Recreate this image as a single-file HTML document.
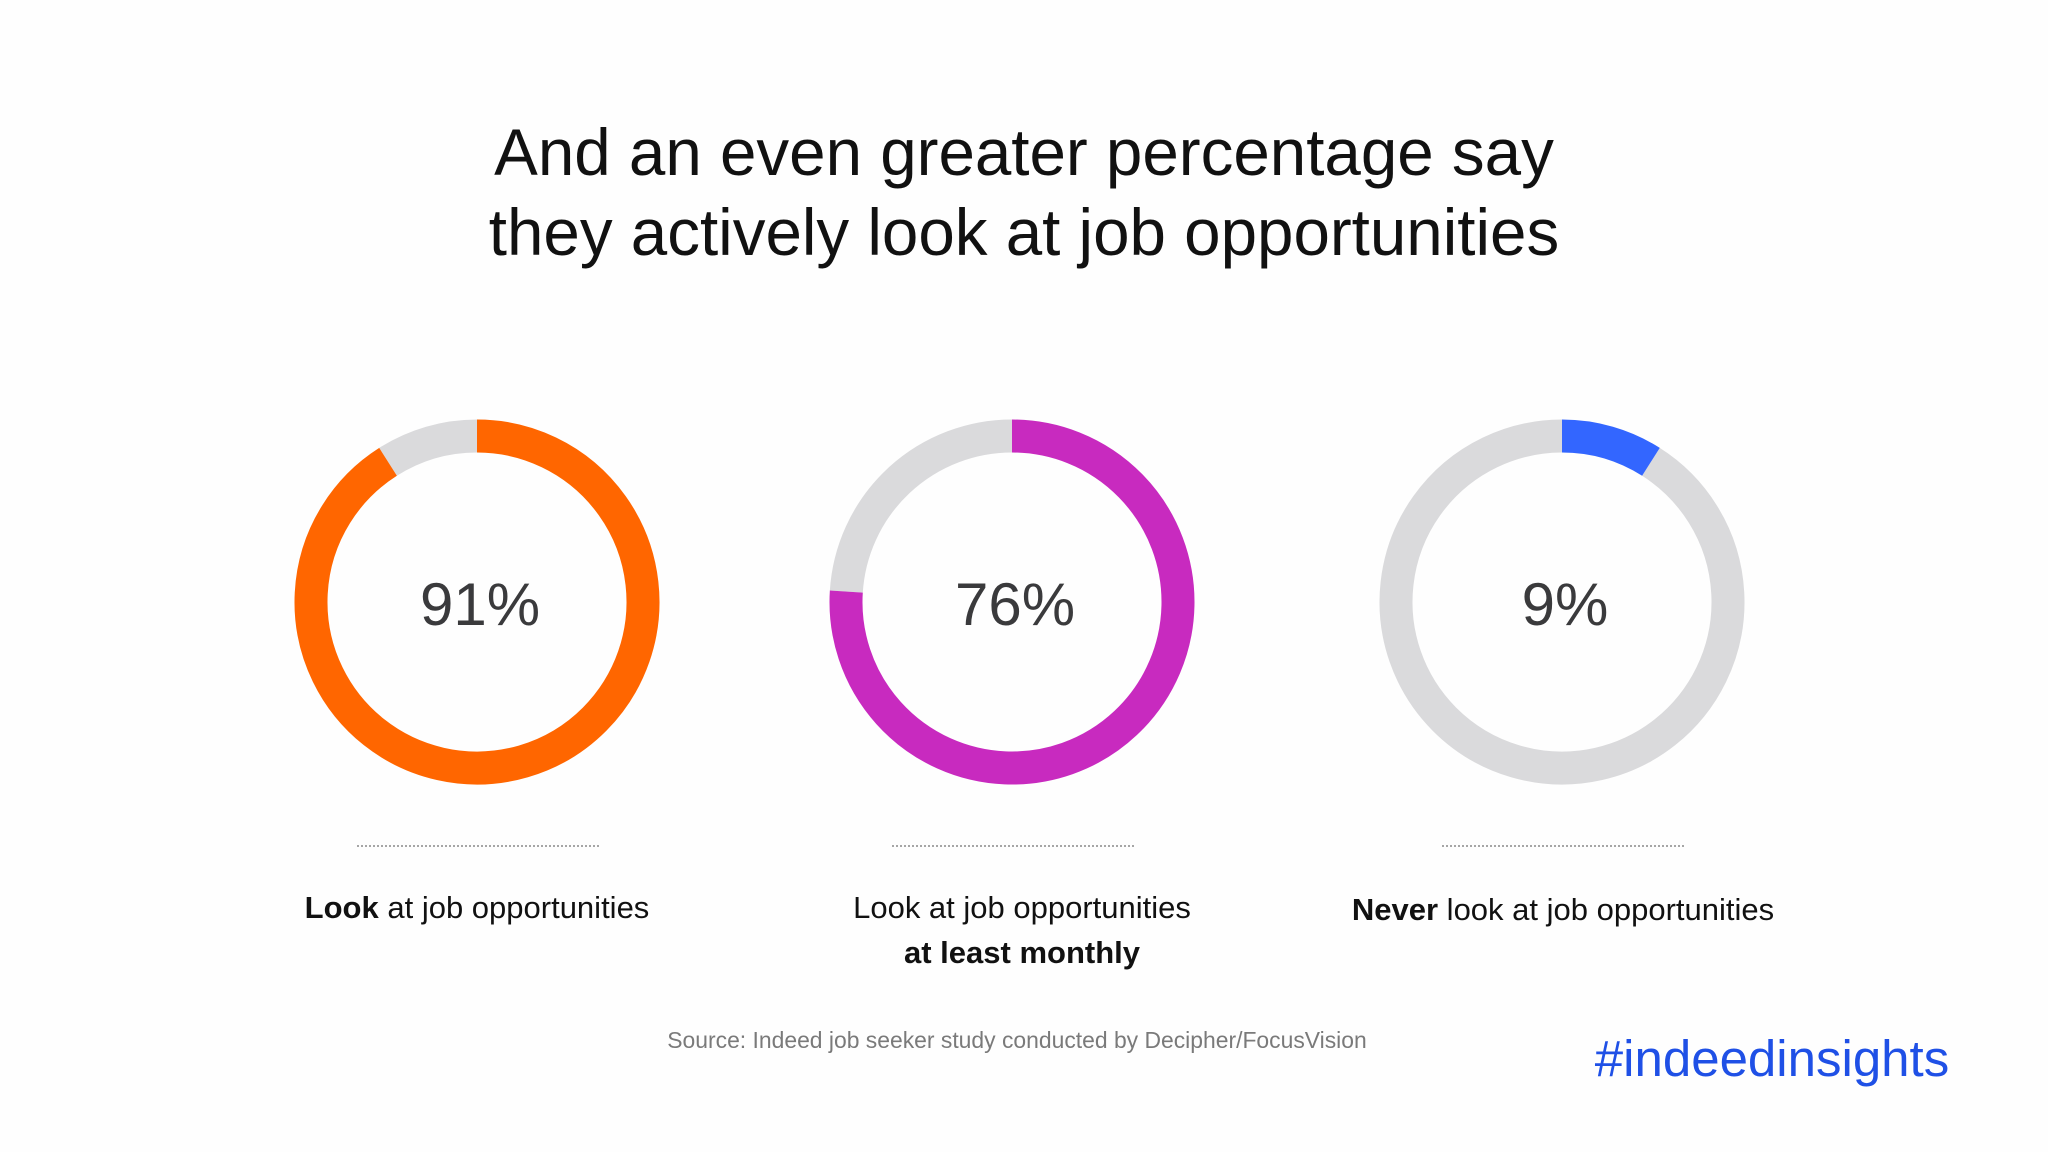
<!DOCTYPE html>
<html><head><meta charset="utf-8"><style>
html,body{margin:0;padding:0;background:#fefefe;}
svg{display:block;font-family:"Liberation Sans",Arial,sans-serif;}
</style></head><body>
<svg id="chart" width="2048" height="1152" viewBox="0 0 2048 1152">
<rect width="2048" height="1152" fill="#fefefe"/>
<g font-size="65.5" fill="#111" text-anchor="middle">
<text x="1024" y="175">And an even greater percentage say</text>
<text x="1024" y="255">they actively look at job opportunities</text>
</g>
<g id="donuts"></g>
<text x="1017" y="1048" font-size="22.9" fill="#7a7a7a" text-anchor="middle">Source: Indeed job seeker study conducted by Decipher/FocusVision</text>
<text x="1772" y="1076" font-size="51" fill="#1f50e6" text-anchor="middle">#indeedinsights</text>
</svg>
<script>
const categories = ["Look at job opportunities", "Look at job opportunities at least monthly", "Never look at job opportunities"];
const values = [91, 76, 9];
const valueLabels = ["91%", "76%", "9%"];
const colors = ["#ff6600", "#c82abf", "#3366ff"];
const ns = "http://www.w3.org/2000/svg";
const g = document.getElementById("donuts");
const centersX = [477, 1012, 1562], cy = 602, R = 166, W = 33;
function pt(cx, a){ return [cx + R*Math.sin(a), cy - R*Math.cos(a)]; }
function arc(cx, f0, f1){
  const a0 = f0*2*Math.PI, a1 = f1*2*Math.PI;
  const p0 = pt(cx,a0), p1 = pt(cx,a1);
  const large = (a1-a0) > Math.PI ? 1 : 0;
  return `M${p0[0]},${p0[1]} A${R},${R} 0 ${large} 1 ${p1[0]},${p1[1]}`;
}
values.forEach((v,i)=>{
  const cx = centersX[i];
  const f = v/100;
  const bg = document.createElementNS(ns,"path");
  
  
  bg.setAttribute("d", arc(cx, f, 0.99999));
  bg.setAttribute("fill","none"); bg.setAttribute("stroke","#dadadc"); bg.setAttribute("stroke-width",W);
  g.appendChild(bg);
  const fg = document.createElementNS(ns,"path");
  
  
  fg.setAttribute("d", arc(cx, 0, f));
  fg.setAttribute("fill","none"); fg.setAttribute("stroke",colors[i]); fg.setAttribute("stroke-width",W);
  g.appendChild(fg);
  const t = document.createElementNS(ns,"text");
  
  
  t.setAttribute("x", cx+3); t.setAttribute("y", cy+23);
  t.setAttribute("font-size","60"); t.setAttribute("fill","#3a3a3c"); t.setAttribute("text-anchor","middle");
  t.textContent = valueLabels[i];
  g.appendChild(t);
  const ln = document.createElementNS(ns,"line");
  
  
  ln.setAttribute("x1", cx-120); ln.setAttribute("x2", cx+122);
  ln.setAttribute("y1", 846); ln.setAttribute("y2", 846);
  ln.setAttribute("stroke","#888"); ln.setAttribute("stroke-width","1.5"); ln.setAttribute("stroke-dasharray","2 2");
  g.appendChild(ln);
});
function label(x,y,bold,rest,bf){
  const t = document.createElementNS(ns,"text");
  
  
  t.setAttribute("x",x); t.setAttribute("y",y); t.setAttribute("font-size","31");
  t.setAttribute("fill","#111"); t.setAttribute("text-anchor","middle");
  if(bold && bf){ t.innerHTML = `<tspan font-weight="bold">${bold}</tspan>${rest}`; }
  else if(bold){ t.innerHTML = `<tspan font-weight="bold">${bold}</tspan>`; }
  else { t.textContent = rest; }
  g.appendChild(t);
}
label(477, 918, "Look", " at job opportunities", true);
label(1022, 918, "", "Look at job opportunities", false);
label(1022, 963, "at least monthly", "", false);
label(1563, 920, "Never", " look at job opportunities", true);
</script>
</body></html>
